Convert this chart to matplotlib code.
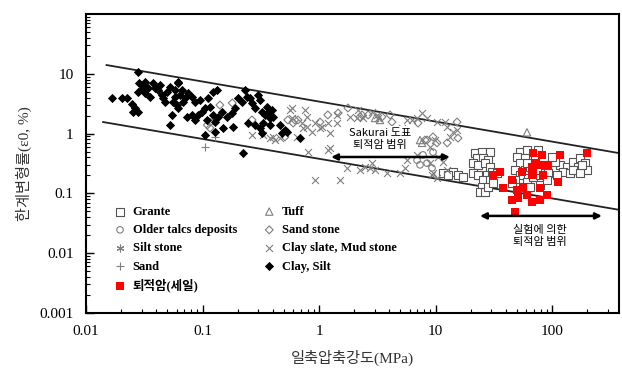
import matplotlib
matplotlib.use("Agg")
import matplotlib.pyplot as plt

plt.rcParams['font.family'] = ['Liberation Serif', 'Noto Sans CJK KR']

# uniaxial compressive strength (MPa) vs critical strain (%)
clay_x = [0.0167, 0.0204, 0.0225, 0.0279, 0.0248, 0.0263, 0.0253, 0.0279, 0.0285, 0.0309,
          0.0321, 0.0303, 0.0279, 0.0321, 0.0340, 0.0354, 0.0376, 0.0391, 0.0415, 0.0432,
          0.0449, 0.0458, 0.0495, 0.0476, 0.0526, 0.0581, 0.0616, 0.0641, 0.0667, 0.0680,
          0.0604, 0.0558, 0.0708, 0.0751, 0.0813, 0.0863, 0.0581, 0.0616, 0.0547, 0.0526,
          0.0952, 0.105, 0.112, 0.116, 0.0990, 0.0915, 0.123, 0.133, 0.123, 0.136,
          0.147, 0.162, 0.179, 0.190, 0.202, 0.218, 0.232, 0.241, 0.256, 0.266,
          0.282, 0.299, 0.312, 0.324, 0.344, 0.365, 0.380, 0.330, 0.312, 0.282,
          0.246, 0.105, 0.128, 0.150, 0.183, 0.128, 0.109, 0.0736, 0.0863, 0.0813,
          0.223, 0.358, 0.395, 0.403, 0.324, 0.380, 0.462, 0.511, 0.481, 0.531,
          0.687, 0.0616]
clay_y = [3.94, 3.94, 3.94, 10.7, 3.13, 2.68, 2.30, 2.30, 7.02, 6.50,
          7.29, 5.57, 4.96, 4.78, 5.79, 4.09, 7.02, 5.79, 5.36, 6.50,
          4.42, 3.94, 4.96, 3.37, 6.01, 5.36, 7.02, 4.42, 5.36, 3.37,
          3.01, 3.37, 3.94, 4.78, 4.09, 3.37, 4.09, 2.68, 2.05, 1.39,
          3.65, 2.68, 3.94, 2.79, 2.30, 2.05, 4.96, 5.36, 2.05, 1.90,
          2.30, 1.90, 2.21, 2.68, 3.94, 3.37, 5.36, 4.09, 3.94, 3.25,
          2.68, 4.42, 3.65, 2.30, 2.05, 2.21, 1.82, 1.50, 1.24, 1.39,
          1.50, 0.95, 1.06, 1.24, 1.29, 1.56, 1.69, 1.90, 1.69, 2.05,
          0.47, 2.79, 2.48, 1.90, 1.02, 1.39, 1.39, 1.15, 1.02, 1.06,
          0.84, 7.29]

slate_x = [0.266, 0.33, 0.38, 0.46, 0.56, 0.59, 0.76, 0.59, 0.79, 0.72,
           0.73, 0.79, 0.65, 0.40, 0.42, 0.87, 1.06, 1.19, 1.43, 1.24,
           0.80, 1.19, 1.43, 1.85, 2.12, 2.16, 1.74, 2.25, 2.85, 2.74,
           3.83, 2.85, 3.15, 6.28, 6.94, 7.66, 8.45, 8.97, 8.97, 6.94,
           9.52, 5.47, 1.51, 0.925, 1.24, 2.48, 3.03, 5.69, 9.33, 12.6,
           14.1, 12.6, 9.91, 10.3, 12.1, 1.02, 0.925, 4.96, 10.3, 15.3,
           13.3, 2.39, 3.21, 5.69, 5.16, 10.5, 11.6]
slate_y = [0.95, 0.95, 0.84, 0.84, 2.48, 2.68, 2.48, 1.82, 1.90, 1.50,
           1.24, 1.29, 0.88, 0.88, 0.78, 1.06, 1.29, 1.50, 1.50, 1.02,
           0.49, 0.53, 2.05, 1.90, 1.82, 2.48, 0.266, 0.246, 0.32, 0.266,
           0.219, 2.30, 2.05, 1.69, 1.82, 2.21, 1.82, 0.60, 0.32, 0.44,
           0.219, 0.266, 0.167, 0.167, 0.57, 0.276, 0.246, 0.36, 0.203, 0.246,
           1.06, 1.29, 0.78, 1.56, 1.56, 1.24, 1.50, 0.219, 0.18, 1.15,
           0.88, 1.82, 1.82, 1.69, 1.24, 0.41, 0.335]

sandstone_x = [0.141, 0.18, 0.11, 0.116, 0.266, 0.62, 1.19, 1.46, 1.77, 2.25,
               2.64, 1.02, 0.60, 0.54, 0.66, 3.47, 4.23, 7.08, 2.34, 4.07,
               8.45, 9.52, 12.6, 15.3, 15.6, 8.12, 10.3, 0.51]
sandstone_y = [3.0, 3.25, 1.39, 1.24, 1.69, 1.69, 2.05, 2.21, 2.68, 1.90,
               2.05, 1.56, 1.50, 1.69, 1.69, 1.90, 1.56, 1.50, 2.05, 2.05,
               0.78, 0.88, 0.70, 1.56, 0.84, 0.78, 0.70, 0.88]

older_x = [7.81, 8.45, 9.33, 9.52, 6.94, 7.36, 0.116]
older_y = [0.44, 0.32, 0.266, 0.49, 0.36, 0.30, 1.56]

tuff_x = [3.34, 3.03, 7.36, 7.66, 61.0]
tuff_y = [1.69, 1.82, 0.78, 0.70, 1.05]

siltstone_x = []
siltstone_y = []

sand_x = [0.128, 0.105]
sand_y = [0.88, 0.60]

granite_x = [21.8, 25.1, 29.4, 22.7, 25.6, 28.2, 21.0, 23.2, 26.6, 29.4,
             21.0, 23.2, 27.7, 25.6, 29.4, 25.1, 24.1, 26.6, 28.2, 31.2,
             14.1, 15.6, 17.2, 11.6, 12.8, 30.5, 33.7,
             53.1, 75.8, 61.0, 50.1, 58.6, 53.1, 48.1, 58.6, 64.7, 53.1,
             48.1, 61.0, 68.7, 78.9, 83.7, 96.1, 106, 117, 135, 151,
             174, 167, 192, 200, 92.4, 74.3, 106, 124, 143, 64.7,
             78.9, 90.6, 53.1, 45.4, 100, 71.4, 87.1, 61.0, 110, 151,
             174, 181]
granite_y = [0.47, 0.49, 0.49, 0.39, 0.39, 0.36, 0.32, 0.30, 0.32, 0.28,
             0.22, 0.20, 0.20, 0.17, 0.17, 0.13, 0.105, 0.105, 0.13, 0.15,
             0.23, 0.20, 0.19, 0.22, 0.20, 0.23, 0.22,
             0.49, 0.53, 0.53, 0.41, 0.39, 0.32, 0.25, 0.25, 0.28, 0.20,
             0.17, 0.155, 0.19, 0.20, 0.25, 0.30, 0.27, 0.30, 0.28, 0.335,
             0.39, 0.28, 0.32, 0.25, 0.22, 0.25, 0.335, 0.23, 0.22, 0.13,
             0.14, 0.17, 0.13, 0.15, 0.41, 0.36, 0.30, 0.32, 0.20, 0.25,
             0.22, 0.30]

shale_x = [68.7, 82.0, 117, 200, 71.4, 78.9, 90.6, 55.2, 67.3, 67.3,
           31.2, 35.8, 45.4, 37.9, 50.1, 56.4, 61.0, 45.4, 51.1, 67.3,
           78.9, 90.6, 78.9, 113, 48.1, 68.7, 83.7]
shale_y = [0.47, 0.44, 0.44, 0.47, 0.32, 0.30, 0.30, 0.23, 0.28, 0.20,
           0.20, 0.23, 0.17, 0.123, 0.114, 0.128, 0.094, 0.078, 0.084, 0.072,
           0.078, 0.094, 0.123, 0.155, 0.049, 0.22, 0.20]

# bounds of the Sakurai band
upper_x = [0.015, 380]
upper_y = [14.0, 0.47]
lower_x = [0.014, 380]
lower_y = [1.56, 0.053]

# ranges marked by double arrows: (x_start, x_end, y)
sakurai_range = (1.27, 13.3, 0.406)
test_range = (24.1, 268, 0.042)

fig = plt.figure(figsize=(6.22, 3.77), dpi=100)
ax = fig.add_axes([0.1383, 0.1698, 0.8569, 0.7931])
ax.set_xscale('log')
ax.set_yscale('log')
ax.set_xlim(0.01, 376)
ax.set_ylim(0.001, 100)

ax.plot(upper_x, upper_y, color='#222222', lw=1.3, zorder=2)
ax.plot(lower_x, lower_y, color='#222222', lw=1.3, zorder=2)

gray = '#7f7f7f'
ax.scatter(granite_x, granite_y, marker='s', s=30, facecolors='white', edgecolors='#555555',
           linewidths=0.8, label='Grante', zorder=3)
ax.scatter(older_x, older_y, marker='o', s=22, facecolors='none', edgecolors=gray,
           linewidths=0.8, label='Older talcs deposits', zorder=3)
ax.scatter(siltstone_x, siltstone_y, marker=(6, 2, 0), s=25, color=gray,
           linewidths=0.8, label='Silt stone', zorder=3)
ax.scatter(sand_x, sand_y, marker='+', s=30, color=gray, linewidths=0.8,
           label='Sand', zorder=3)
ax.scatter(shale_x, shale_y, marker='s', s=30, color='#ff0000', linewidths=0,
           label='퇴적암(세일)', zorder=4)
ax.scatter(tuff_x, tuff_y, marker='^', s=28, facecolors='none', edgecolors=gray,
           linewidths=0.8, label='Tuff', zorder=3)
ax.scatter(sandstone_x, sandstone_y, marker='D', s=16, facecolors='none', edgecolors=gray,
           linewidths=0.8, label='Sand stone', zorder=3)
ax.scatter(slate_x, slate_y, marker='x', s=25, color=gray, linewidths=0.8,
           label='Clay slate, Mud stone', zorder=3)
ax.scatter(clay_x, clay_y, marker='D', s=22, color='black', linewidths=0,
           label='Clay, Silt', zorder=3)

arrow = dict(arrowstyle='<|-|>', color='black', lw=1.8, mutation_scale=9,
             shrinkA=0, shrinkB=0)
ax.annotate('', xy=(sakurai_range[0], sakurai_range[2]),
            xytext=(sakurai_range[1], sakurai_range[2]), arrowprops=arrow, zorder=6)
ax.annotate('', xy=(test_range[0], test_range[2]),
            xytext=(test_range[1], test_range[2]), arrowprops=arrow, zorder=6)

note_font = ['Noto Sans CJK KR', 'DejaVu Sans']
ax.text(3.35, 0.82, 'Sakurai 도표\n퇴적암 범위', family=note_font, fontsize=8,
        ha='center', va='center', linespacing=1.3, zorder=5,
        bbox=dict(facecolor='white', edgecolor='none', pad=1))
ax.text(79, 0.0194, '실험에 의한\n퇴적암 범위', family=note_font, fontsize=8,
        ha='center', va='center', linespacing=1.3, zorder=5,
        bbox=dict(facecolor='white', edgecolor='none', pad=1))

leg = ax.legend(loc='upper left', bbox_to_anchor=(0.045, 0.375), ncol=2, frameon=False,
                prop={'family': ['Liberation Serif', 'Noto Sans CJK KR'],
                      'weight': 'bold', 'size': 9},
                handlelength=0.8, handletextpad=0.6, columnspacing=2.2,
                labelspacing=0.5, borderaxespad=0, scatterpoints=1)

for sp in ax.spines.values():
    sp.set_linewidth(1.5)
    sp.set_color('black')
ax.tick_params(which='both', direction='in', labelsize=11, colors='black')
ax.tick_params(which='major', length=6, width=1.0, pad=9)
ax.tick_params(which='minor', length=3, width=0.8)
ax.set_xticks([0.01, 0.1, 1, 10, 100])
ax.set_xticklabels(['0.01', '0.1', '1', '10', '100'])
ax.set_yticks([0.001, 0.01, 0.1, 1, 10])
ax.set_yticklabels(['0.001', '0.01', '0.1', '1', '10'])

ax.set_xlabel('일축압축강도(MPa)', fontsize=11, color='#333333', labelpad=8)
ax.set_ylabel('한계변형률(ε0, %)', fontsize=11, color='#333333', labelpad=5)

fig.savefig('out.png', dpi=100)
